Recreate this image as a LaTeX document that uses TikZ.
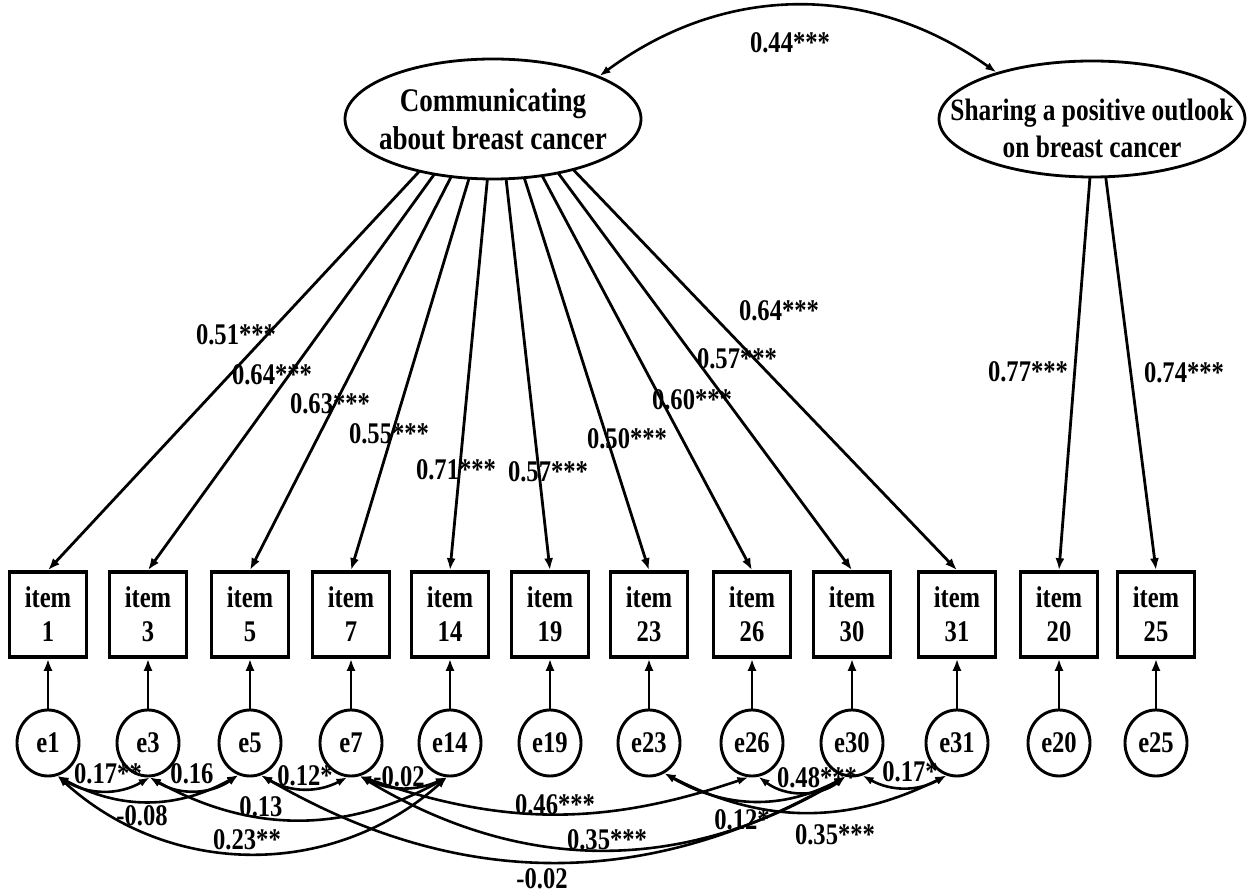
\documentclass[tikz,border=0pt]{standalone}
\usepackage{fontspec}
\setmainfont{Liberation Serif}[FakeStretch=0.82]
\usetikzlibrary{arrows.meta,shapes.geometric,intersections}

\begin{document}
\begin{tikzpicture}[x=1pt,y=1pt,
  every node/.style={font=\fontsize{30}{34}\selectfont\bfseries},
  latent/.style={draw, ellipse, line width=2.8pt, inner sep=0pt},
  latenttext/.style={align=center, inner sep=0pt, font=\fontsize{33}{38}\selectfont\bfseries},
  itembox/.style={draw, rectangle, line width=3.6pt, minimum width=77pt, minimum height=85pt, align=center, inner sep=0pt},
  errnode/.style={draw, ellipse, line width=2.9pt, minimum width=62pt, minimum height=66pt, inner sep=0pt},
  load/.style={line width=2.8pt, -{Latex[length=12pt,width=9pt]}},
  resid/.style={line width=2.8pt, -{Latex[length=12pt,width=9pt]}},
  cov/.style={line width=2.6pt, {Latex[length=11pt,width=8pt]}-{Latex[length=11pt,width=8pt]}},
  est/.style={inner sep=0pt},
]
\useasboundingbox (0,0) rectangle (1251,895);

% latent factors
\node[latent, minimum width=296pt, minimum height=120pt] (C) at (493,776) {};
\node[latenttext] (Ct) at (493,776) {Communicating\\about breast cancer};
\node[latent, minimum width=306pt, minimum height=116pt] (S) at (1092,776) {};
\node[latenttext, font=\fontsize{31}{37}\selectfont\bfseries] (St) at (1092,767) {Sharing a positive outlook\\on breast cancer};

% factor covariance
\draw[cov] (C.22) to[bend left=36] (S.154);
\node[est] (l44) at (790,852) {0.44***};

% observed items and their error terms
\foreach \n/\x in {1/48,3/148,5/250,7/351,14/450,19/550,23/649,26/752,30/852,31/957,20/1059,25/1156} {
  \node[itembox] (i\n) at (\x,280.5) {item\\\n};
  \node[errnode] (e\n) at (\x,152) {e\n};
  \draw[resid] (e\n) -- (i\n);
}

% loadings of the first factor
\path[name path=Cpath] (493,776) ellipse [x radius=148, y radius=60];
\coordinate (Cf) at (496,806);
\foreach \n/\lx/\ly/\lab in {1/236/560/0.51***, 3/272/520/0.64***, 5/330/491/0.63***,
    7/389/461/0.55***, 14/456/425/0.71***, 19/548/423/0.57***, 23/627/456/0.50***,
    26/692/495/0.60***, 30/737/536/0.57***, 31/779/584/0.64***} {
  \path[name path=ray] (Cf) -- (i\n.north);
  \draw[load, name intersections={of=Cpath and ray, by=pp}] (pp) -- (i\n.north);
  \node[est] (l\n) at (\lx,\ly) {\lab};
}

% loadings of the second factor
\path[name path=Spath] (1092,776) ellipse [x radius=153, y radius=58];
\coordinate (Sf) at (1096,794);
\foreach \n/\lx/\ly/\lab in {20/1028/523/0.77***, 25/1184/522/0.74***} {
  \path[name path=ray] (Sf) -- (i\n.north);
  \draw[load, name intersections={of=Spath and ray, by=pp}] (pp) -- (i\n.north);
  \node[est] (l\n) at (\lx,\ly) {\lab};
}

% error covariances
\draw[cov] (e1.-74) to[bend right=31] (e3.-87);
\draw[cov] (e3.-87) to[bend right=33] (e5.-110);
\draw[cov] (e5.-71) to[bend right=29] (e7.-96);
\draw[cov] (e7.-75) to[bend right=25] (e14.-95);
\draw[cov] (e1.-74) to[bend right=29] (e5.-110);
\draw[cov] (e3.-87) to[bend right=29] (e14.-95);
\draw[cov] (e1.-74) to[bend right=42] (e14.-95);
\draw[cov] (e7.-75) to[bend right=19] (e26.-96);
\draw[cov] (e7.-75) to[bend right=31] (e30.-101);
\draw[cov] (e5.-71) to[bend right=30] (e30.-101);
\draw[cov] (e23.-63) to[bend right=29] (e30.-101);
\draw[cov] (e23.-63) to[bend right=27] (e31.-108);
\draw[cov] (e26.-79) to[bend right=37] (e30.-101);
\draw[cov] (e30.-72) to[bend right=29] (e31.-108);

\node[est] (c1) at (108,121) {0.17**};
\node[est] (c2) at (192,121) {0.16};
\node[est] (c3) at (305,119) {0.12*};
\node[est] (c4) at (399,118) {-0.02};
\node[est] (c5) at (142,79) {-0.08};
\node[est] (c6) at (261,88) {0.13};
\node[est] (c7) at (247,55) {0.23**};
\node[est] (c8) at (555,90) {0.46***};
\node[est] (c9) at (607,55) {0.35***};
\node[est] (c10) at (542,16) {-0.02};
\node[est] (c11) at (742,75) {0.12*};
\node[est] (c12) at (835,60) {0.35***};
\node[est] (c13) at (817,117) {0.48***};
\node[est] (c14) at (910,123) {0.17*};
\end{tikzpicture}
\end{document}
